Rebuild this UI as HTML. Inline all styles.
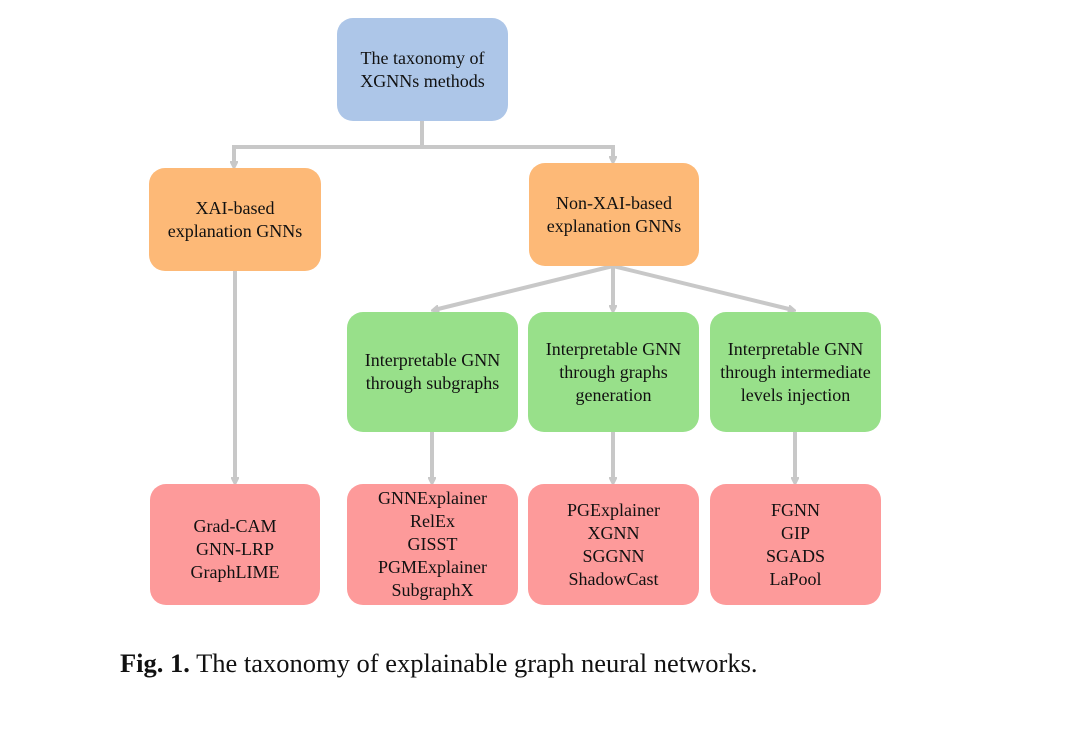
<!DOCTYPE html>
<html><head><style>
body{margin:0;background:#fff;width:1080px;height:738px;position:relative;overflow:hidden;font-family:"Liberation Serif",serif;}
.b{position:absolute;border-radius:16px;display:flex;align-items:center;justify-content:center;text-align:center;font-size:18px;line-height:23px;color:#111;}
.bl{background:#adc6e8}.or{background:#fdb977}.gr{background:#98e08a}.rd{background:#fd9a9a}
.cap{position:absolute;left:120px;top:648px;font-size:26.5px;color:#111;white-space:nowrap;}
</style></head><body>
<svg width="1080" height="738" style="position:absolute;left:0;top:0">
<defs><marker id="a" markerWidth="8" markerHeight="8" refX="5" refY="4" orient="auto" markerUnits="userSpaceOnUse"><path d="M0,0 L8,4 L0,8 L3,4 Z" fill="#c8c8c8" transform="scale(1.6) translate(-2,-1.5)"/></marker></defs>
<g stroke="#c8c8c8" stroke-width="4" fill="none">
<path d="M422,121 V147 M232,147 H615"/>
<path d="M234,147 V166" marker-end="url(#a)"/>
<path d="M613,147 V161" marker-end="url(#a)"/>
<path d="M235,271 V482" marker-end="url(#a)"/>
<path d="M613,266 L434,310" marker-end="url(#a)"/>
<path d="M613,266 V310" marker-end="url(#a)"/>
<path d="M613,266 L793,310" marker-end="url(#a)"/>
<path d="M432,432 V482" marker-end="url(#a)"/>
<path d="M613,432 V482" marker-end="url(#a)"/>
<path d="M795,432 V482" marker-end="url(#a)"/>
</g></svg>
<div class="b bl" style="left:337px;top:18px;width:171px;height:103px">The taxonomy of<br>XGNNs methods</div>
<div class="b or" style="left:149px;top:168px;width:172px;height:103px">XAI-based<br>explanation GNNs</div>
<div class="b or" style="left:529px;top:163px;width:170px;height:103px">Non-XAI-based<br>explanation GNNs</div>
<div class="b gr" style="left:347px;top:312px;width:171px;height:120px">Interpretable GNN<br>through subgraphs</div>
<div class="b gr" style="left:528px;top:312px;width:171px;height:120px">Interpretable GNN<br>through graphs<br>generation</div>
<div class="b gr" style="left:710px;top:312px;width:171px;height:120px">Interpretable GNN<br>through intermediate<br>levels injection</div>
<div class="b rd" style="left:150px;top:484px;width:170px;height:121px;padding-top:10px;box-sizing:border-box">Grad-CAM<br>GNN-LRP<br>GraphLIME</div>
<div class="b rd" style="left:347px;top:484px;width:171px;height:121px">GNNExplainer<br>RelEx<br>GISST<br>PGMExplainer<br>SubgraphX</div>
<div class="b rd" style="left:528px;top:484px;width:171px;height:121px">PGExplainer<br>XGNN<br>SGGNN<br>ShadowCast</div>
<div class="b rd" style="left:710px;top:484px;width:171px;height:121px">FGNN<br>GIP<br>SGADS<br>LaPool</div>
<div class="cap"><b>Fig. 1.</b> The taxonomy of explainable graph neural networks.</div>
</body></html>
